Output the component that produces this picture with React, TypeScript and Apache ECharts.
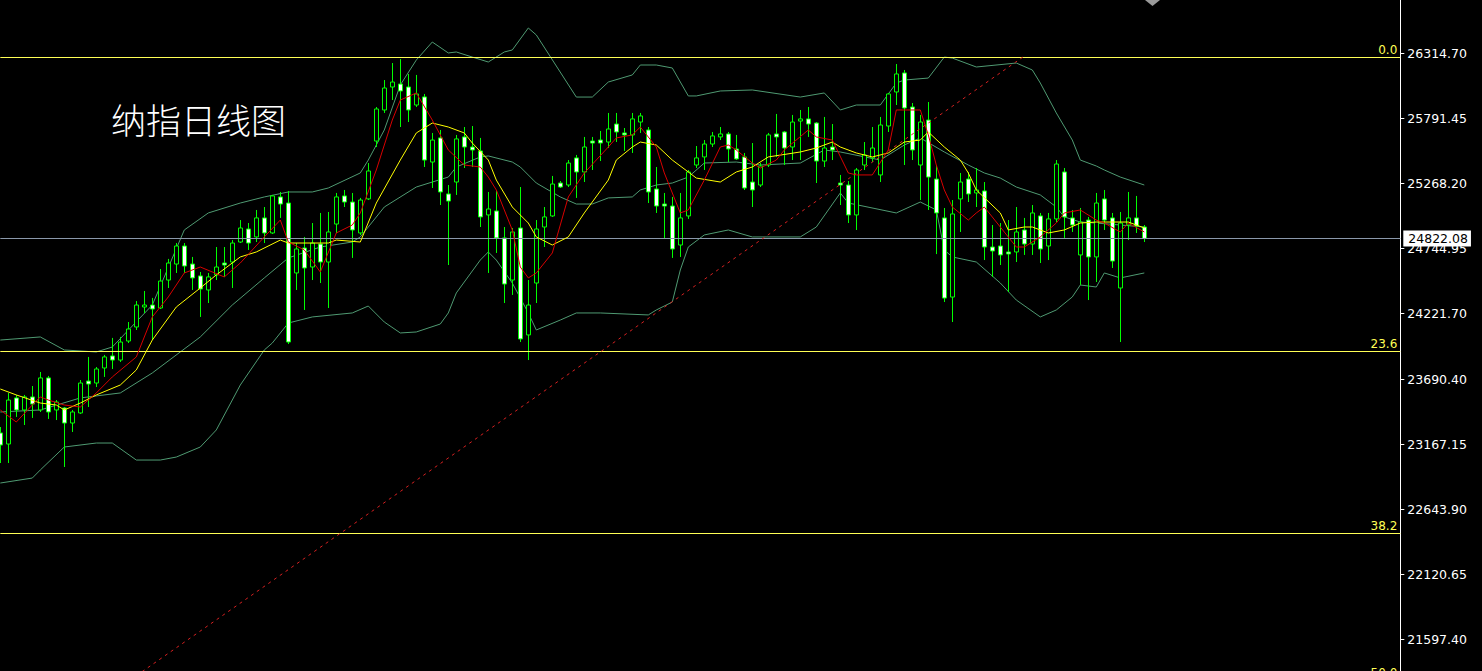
import React, { useEffect, useRef } from "react";
import * as echarts from "echarts";

// ---- data ----
const CATEGORIES: string[] = Array.from({ length: 176 }, (_, i) => String(i));

// [open, close, low, high]
const OHLC: number[][] = [
  [23256, 23159, 23014, 23304], [23167, 23521, 23014, 23578], [23538, 23441, 23385, 23562], [23441, 23546, 23320, 23562],
  [23546, 23489, 23377, 23634], [23441, 23699, 23425, 23747], [23699, 23425, 23369, 23715], [23441, 23505, 23360, 23521],
  [23457, 23336, 22982, 23465], [23336, 23425, 23264, 23441], [23417, 23658, 23409, 23682], [23674, 23650, 23465, 23868],
  [23658, 23771, 23626, 23787], [23779, 23868, 23707, 23884], [23876, 23843, 23771, 24021], [23843, 23988, 23827, 24029],
  [23996, 24093, 23980, 24149], [24109, 24286, 24085, 24318], [24270, 24286, 24222, 24399], [24286, 24254, 24004, 24343],
  [24262, 24479, 24254, 24576], [24487, 24624, 24423, 24657], [24616, 24761, 24544, 24785], [24761, 24600, 24544, 24785],
  [24616, 24504, 24407, 24673], [24520, 24415, 24190, 24552], [24407, 24512, 24302, 24544], [24528, 24592, 24487, 24753],
  [24624, 24608, 24512, 24753], [24632, 24785, 24423, 24809], [24793, 24906, 24785, 24970], [24898, 24785, 24729, 24946],
  [24834, 24987, 24793, 25051], [24987, 24866, 24785, 25075], [24866, 25164, 24858, 25172], [25156, 25099, 24987, 25196],
  [25107, 23988, 23972, 25204], [24544, 24737, 24407, 24785], [24745, 24584, 24246, 24834], [24592, 24785, 24487, 24946],
  [24777, 24632, 24463, 25027], [24632, 24874, 24262, 25035], [24938, 25156, 24866, 25188], [25164, 25115, 25075, 25212],
  [25115, 24890, 24665, 25188], [24866, 25131, 24850, 25148], [25140, 25365, 25131, 25429], [25606, 25864, 25558, 25880],
  [25856, 26033, 25832, 26097], [26041, 26081, 25936, 26234], [26065, 26009, 25719, 26266], [26041, 25856, 25759, 26146],
  [25896, 25985, 25880, 26138], [25961, 25453, 25397, 25985], [25437, 25614, 25228, 25671], [25631, 25196, 25091, 25695],
  [25180, 25123, 24608, 25252], [25276, 25623, 25172, 25655], [25639, 25558, 25389, 25719], [25558, 25534, 25397, 25727],
  [25526, 24995, 24914, 25631], [25011, 25059, 24544, 25196], [25043, 24826, 24705, 25204], [24826, 24455, 24302, 24914],
  [24487, 24874, 24367, 24906], [24906, 24013, 23988, 25236], [24045, 24286, 23843, 24487], [24463, 24898, 24302, 24970],
  [24914, 24995, 24753, 25075], [25003, 25260, 24995, 25325], [25268, 25236, 25228, 25284], [25252, 25429, 25236, 25453],
  [25470, 25357, 25148, 25494], [25357, 25558, 25276, 25639], [25606, 25590, 25373, 25639], [25614, 25590, 25445, 25687],
  [25598, 25703, 25550, 25832], [25743, 25679, 25598, 25832], [25671, 25655, 25526, 25711], [25655, 25784, 25510, 25832],
  [25759, 25808, 25671, 25832], [25695, 25196, 25107, 25719], [25220, 25083, 25027, 25397], [25099, 25083, 24817, 25188],
  [25083, 24737, 24665, 25156], [24769, 24987, 24673, 25188], [25003, 25357, 24979, 25373], [25413, 25470, 25389, 25566],
  [25478, 25582, 25373, 25614], [25582, 25647, 25558, 25679], [25639, 25663, 25614, 25719], [25663, 25542, 25437, 25679],
  [25542, 25462, 25453, 25655], [25478, 25228, 25212, 25510], [25276, 25212, 25075, 25590], [25252, 25405, 25236, 25429],
  [25413, 25655, 25397, 25671], [25663, 25639, 25478, 25824], [25679, 25550, 25413, 25687], [25558, 25759, 25453, 25816],
  [25767, 25784, 25453, 25856], [25784, 25743, 25639, 25880], [25751, 25445, 25268, 25759], [25445, 25550, 25397, 25800],
  [25558, 25534, 25453, 25743], [25268, 25252, 25091, 25333], [25252, 25011, 24946, 25284], [25011, 25373, 24890, 25389],
  [25413, 25494, 25373, 25598], [25470, 25550, 25437, 25719], [25333, 25735, 25276, 25800], [25727, 25985, 25679, 25993],
  [26001, 26146, 25896, 26226], [26154, 25872, 25413, 26178], [25880, 25534, 25453, 25912], [25413, 25759, 25131, 25816],
  [25775, 25316, 25051, 25920], [25300, 25027, 24696, 25413], [24987, 24342, 24310, 25067], [24350, 25019, 24149, 25131],
  [25140, 25276, 24874, 25349], [25300, 25180, 25115, 25357], [25188, 25212, 25075, 25389], [25204, 24753, 24648, 25276],
  [24753, 24721, 24512, 24930], [24761, 24689, 24608, 24946], [24713, 24697, 24391, 24970], [24713, 24874, 24632, 25075],
  [24890, 24777, 24689, 24987], [24777, 25027, 24689, 25091], [25003, 24737, 24624, 25027], [24761, 24979, 24648, 25027],
  [24979, 25421, 24954, 25453], [25357, 24995, 24826, 25389], [24987, 24930, 24874, 25051], [24689, 24954, 24447, 25067],
  [24970, 24673, 24326, 24995], [24673, 25107, 24471, 25188], [25140, 24970, 24890, 25212], [24987, 24640, 24584, 25027],
  [24423, 24946, 23988, 25035], [24930, 24987, 24809, 25196], [24987, 24922, 24866, 25164], [24914, 24822.08, 24793, 24930],
];

// [candle index, value] vertices
const MA_FAST: number[][] = [
  [0, 23441], [2, 23344], [4, 23481], [5, 23546], [6, 23521], [8, 23481], [10, 23465], [12, 23578], [14, 23707],
  [17, 23868], [19, 24190], [21, 24351], [23, 24544], [25, 24592], [28, 24512], [30, 24624], [33, 24834], [35, 24970],
  [36, 24793], [38, 24729], [40, 24552], [42, 24866], [44, 24930], [45, 25027], [47, 25373], [49, 25775], [50, 25936],
  [52, 25993], [54, 25775], [56, 25534], [58, 25413], [60, 25397], [61, 25316], [62, 25212], [64, 24890], [65, 24592],
  [66, 24504], [67, 24544], [69, 24705], [71, 25156], [73, 25349], [76, 25558], [77, 25631], [79, 25655], [80, 25719],
  [82, 25558], [83, 25349], [85, 25027], [86, 25051], [88, 25292], [90, 25558], [91, 25574], [92, 25534], [94, 25429],
  [95, 25389], [97, 25453], [98, 25534], [101, 25695], [102, 25639], [104, 25614], [106, 25349], [107, 25333],
  [109, 25333], [111, 25534], [112, 25856], [115, 25856], [116, 25655], [117, 25413], [118, 25212], [119, 25075],
  [121, 24970], [122, 25027], [123, 25075], [125, 24914], [127, 24753], [128, 24753], [130, 24834], [132, 24946],
  [133, 25027], [135, 25051], [137, 24970], [138, 24946], [140, 24874], [141, 24946], [143, 24874],
];

const MA_SLOW: number[][] = [
  [0, 23610], [2, 23562], [5, 23497], [7, 23481], [8, 23441], [10, 23497], [12, 23562], [15, 23642], [17, 23763],
  [19, 24004], [22, 24270], [25, 24423], [27, 24528], [30, 24673], [32, 24713], [35, 24809], [36, 24785], [41, 24785],
  [42, 24809], [45, 24793], [47, 25107], [50, 25453], [52, 25671], [54, 25751], [56, 25719], [58, 25671], [59, 25590],
  [61, 25453], [62, 25292], [64, 25075], [66, 24946], [67, 24834], [69, 24769], [71, 24834], [73, 25027], [76, 25292],
  [77, 25453], [79, 25558], [80, 25598], [82, 25574], [84, 25453], [86, 25357], [87, 25308], [90, 25276], [92, 25357],
  [94, 25397], [96, 25478], [100, 25518], [102, 25550], [104, 25598], [105, 25558], [107, 25510], [109, 25478],
  [111, 25510], [113, 25598], [115, 25614], [116, 25679], [118, 25558], [120, 25453], [121, 25349], [122, 25212],
  [125, 25027], [126, 24890], [128, 24914], [129, 24914], [131, 24866], [133, 24890], [135, 24946], [137, 24954],
  [139, 24954], [141, 24954], [143, 24906],
];

const BB_UPPER: number[][] = [
  [0, 24004], [5, 24029], [8, 23924], [12, 23908], [14, 23948], [19, 24286], [23, 24890], [26, 25027], [30, 25107],
  [33, 25156], [36, 25196], [39, 25196], [41, 25228], [45, 25349], [46, 25453], [48, 25695], [50, 26057], [52, 26258],
  [54, 26403], [56, 26315], [57, 26323], [59, 26282], [61, 26242], [63, 26323], [64, 26339], [66, 26516], [67, 26460],
  [72, 25960], [74, 25960], [76, 26081], [79, 26138], [80, 26218], [82, 26218], [84, 26194], [86, 25969], [87, 25969],
  [90, 26009], [94, 26017], [100, 25960], [103, 25993], [105, 25856], [107, 25896], [110, 25896], [112, 26073],
  [113, 26097], [116, 26113], [118, 26282], [119, 26274], [122, 26202], [127, 26234], [129, 26178], [130, 26073],
  [132, 25832], [134, 25614], [135, 25453], [137, 25405], [138, 25373], [140, 25316], [143, 25252],
];

const BB_MIDDLE: number[][] = [
  [0, 23425], [5, 23441], [10, 23538], [15, 23578], [19, 23739], [25, 24029], [29, 24286], [33, 24504], [36, 24665],
  [40, 24753], [44, 24793], [45, 24834], [48, 25075], [52, 25236], [56, 25316], [57, 25397], [60, 25478], [61, 25486],
  [64, 25437], [65, 25397], [67, 25268], [70, 25156], [72, 25099], [74, 25099], [76, 25148], [79, 25156], [80, 25212],
  [82, 25252], [84, 25268], [86, 25316], [88, 25429], [92, 25437], [95, 25413], [100, 25429], [103, 25534],
  [105, 25518], [110, 25453], [113, 25574], [115, 25631], [118, 25518], [121, 25413], [123, 25349], [125, 25308],
  [127, 25236], [130, 25172], [132, 25075], [133, 24995], [135, 24954], [137, 24946], [140, 24930], [143, 24914],
];

const BB_LOWER: number[][] = [
  [0, 22853], [4, 22893], [5, 22958], [8, 23143], [12, 23175], [14, 23175], [17, 23038], [20, 23038], [22, 23062],
  [25, 23143], [27, 23280], [30, 23642], [33, 23924], [34, 23980], [36, 24141], [39, 24190], [44, 24222], [46, 24278],
  [48, 24149], [50, 24061], [52, 24069], [55, 24133], [56, 24222], [57, 24383], [60, 24648], [61, 24713], [62, 24648],
  [64, 24463], [66, 24222], [67, 24085], [70, 24165], [72, 24222], [75, 24222], [81, 24206], [82, 24246], [84, 24310],
  [85, 24568], [86, 24753], [88, 24850], [91, 24890], [94, 24834], [100, 24834], [102, 24914], [105, 25188],
  [106, 25107], [112, 25027], [115, 25115], [117, 25051], [118, 24729], [119, 24673], [122, 24632], [125, 24463],
  [127, 24326], [130, 24190], [132, 24246], [134, 24351], [135, 24447], [137, 24431], [138, 24544], [140, 24504],
  [143, 24544],
];

const TREND_LINE: number[][] = [
  [17, 21302],
  [128, 26290],
];

const FIB_LABELS = ["0.0", "23.6", "38.2", "50.0"];
const FIB_VALUES = [26282, 23916, 22452, 21269];

const Y_TICKS = [26314.7, 25791.45, 25268.2, 24744.95, 24221.7, 23690.4, 23167.15, 22643.9, 22120.65, 21597.4];
const LAST_PRICE = 24822.08;
const TITLE = "纳指日线图";

// ---- styling ----
const Y_MIN = 21106.35;
const Y_MAX = 26741.35;
const BB_COLOR = "#4f9a72";
const FIB_COLOR = "#ffff55";

export default function App() {
  const ref = useRef<HTMLDivElement>(null);

  useEffect(() => {
    if (!ref.current) return;
    const chart = echarts.init(ref.current, null, { renderer: "svg" });

    const lineSeries = (name: string, data: number[][], color: string, extra: any = {}) => ({
      name,
      type: "line",
      data,
      symbol: "none",
      silent: true,
      lineStyle: { color, width: 1, ...(extra.lineStyle || {}) },
      z: extra.z ?? 3,
      clip: true,
    });

    const fibMarks = FIB_VALUES.map((v, i) => ({
      yAxis: v,
      lineStyle: { color: FIB_COLOR, width: 1, type: "solid" },
      label: {
        show: true,
        position: "insideEndTop",
        formatter: FIB_LABELS[i],
        color: FIB_COLOR,
        fontFamily: "DejaVu Sans",
        fontSize: 12,
        distance: [3, 1],
      },
    }));

    const option: any = {
      animation: false,
      backgroundColor: "#000000",
      grid: {
        left: 0.3,
        right: 81.7,
        top: 0,
        height: 700,
        containLabel: false,
        outerBoundsMode: "none",
      },
      xAxis: {
        type: "category",
        data: CATEGORIES,
        boundaryGap: false,
        show: false,
      },
      yAxis: {
        type: "value",
        position: "right",
        min: Y_MIN,
        max: Y_MAX,
        splitLine: { show: false },
        axisLine: { show: true, lineStyle: { color: "#ffffff", width: 1 } },
        axisTick: { show: true, length: 4, lineStyle: { color: "#ffffff" }, customValues: Y_TICKS },
        axisLabel: {
          color: "#ffffff",
          fontFamily: "DejaVu Sans",
          fontSize: 12.5,
          margin: 7,
          customValues: Y_TICKS,
          formatter: (v: number) => v.toFixed(2),
        },
      },
      graphic: [
        {
          type: "text",
          left: 111,
          top: 101,
          style: {
            text: TITLE,
            fill: "#ffffff",
            fontSize: 35,
            fontWeight: 300,
            fontFamily: "Noto Sans CJK SC",
          },
        },
        {
          type: "polygon",
          shape: { points: [[1145, 0], [1160, 0], [1152.5, 6]] },
          style: { fill: "#9a9a9a" },
        },
      ],
      series: [
        lineSeries("BB Upper", BB_UPPER, BB_COLOR, { z: 2 }),
        lineSeries("BB Middle", BB_MIDDLE, BB_COLOR, { z: 2 }),
        lineSeries("BB Lower", BB_LOWER, BB_COLOR, { z: 2 }),
        {
          name: "Fib",
          type: "line",
          data: [],
          silent: true,
          markLine: {
            silent: true,
            symbol: "none",
            animation: false,
            data: fibMarks,
          },
        },
        {
          name: "K",
          type: "candlestick",
          data: OHLC,
          barWidth: 4,
          clip: false,
          z: 4,
          itemStyle: {
            color: "#000000",
            color0: "#ffffff",
            borderColor: "#00ff00",
            borderColor0: "#00ff00",
            borderWidth: 1,
          },
          markLine: {
            silent: true,
            symbol: "none",
            animation: false,
            data: [
              {
                yAxis: LAST_PRICE,
                lineStyle: { color: "#8a98aa", width: 1, type: "solid" },
                label: {
                  show: true,
                  position: "end",
                  distance: 3,
                  formatter: (p: any) => Number(p.value).toFixed(2),
                  color: "#000000",
                  backgroundColor: "#ffffff",
                  fontFamily: "DejaVu Sans",
                  fontSize: 12.5,
                  padding: [2, 3, 1, 5],
                },
              },
            ],
          },
        },
        lineSeries("MA Slow", MA_SLOW, "#ffff00", { z: 5 }),
        lineSeries("MA Fast", MA_FAST, "#d80000", { z: 6 }),
        {
          name: "Trend",
          type: "line",
          data: TREND_LINE,
          symbol: "none",
          silent: true,
          z: 6,
          lineStyle: { color: "#d42020", width: 1, type: [3, 4] },
        },
      ],
    };

    chart.setOption(option);
    return () => chart.dispose();
  }, []);

  return (
    <div
      ref={ref}
      style={{ position: "fixed", left: 0, top: 0, width: 1482, height: 671, background: "#000" }}
    />
  );
}
